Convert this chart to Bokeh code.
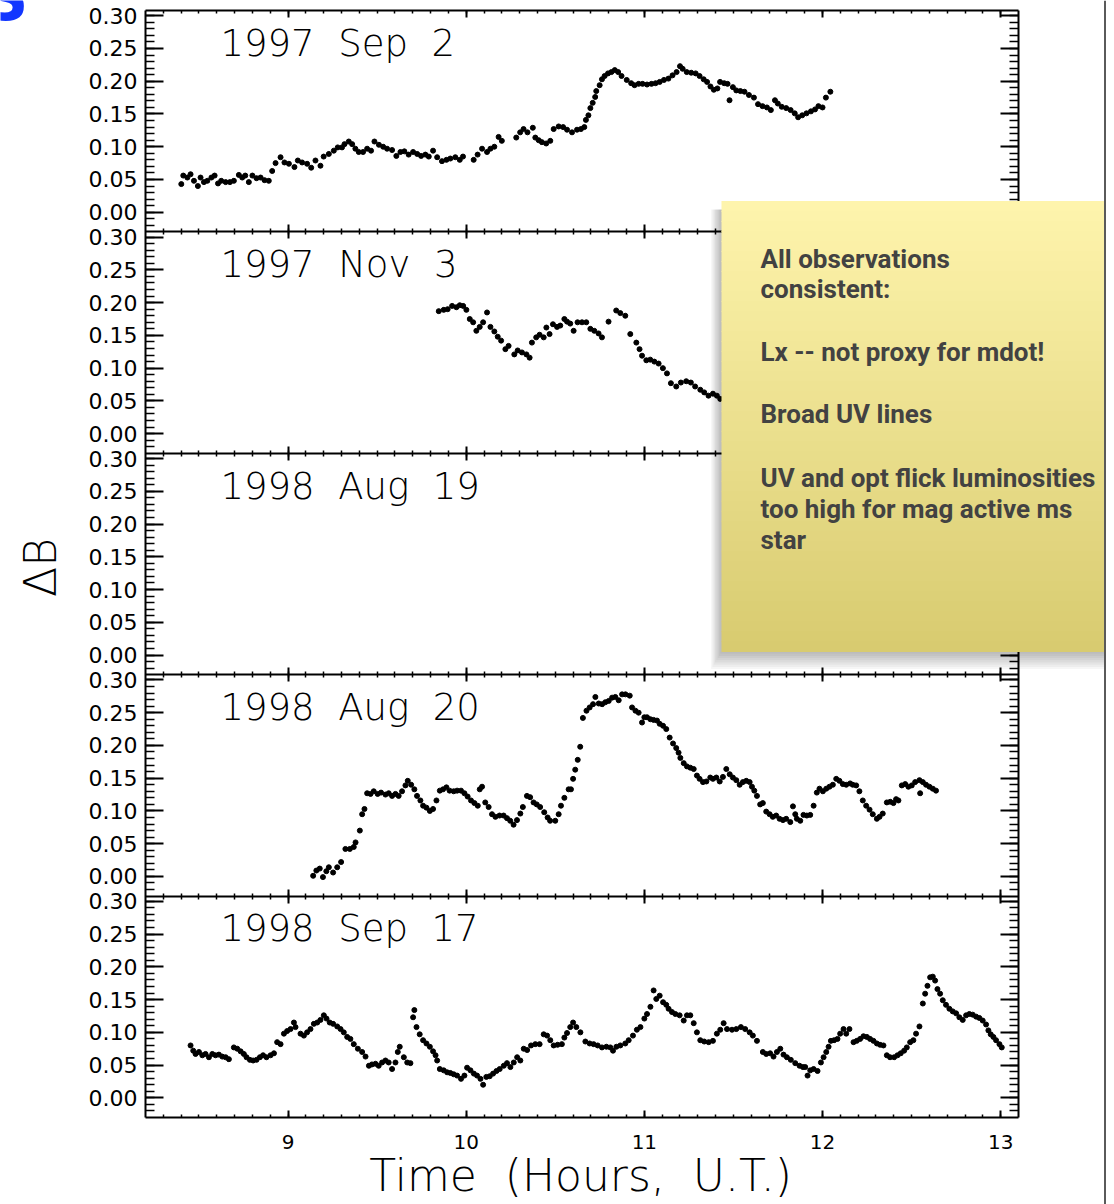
import math
from bokeh.plotting import figure
from bokeh.models import (Range1d, LinearAxis, FixedTicker, CustomJSTickFormatter,
                          BoxAnnotation, Label)
from bokeh.core.properties import value
from bokeh.embed import file_html
from bokeh.resources import INLINE

# ---------------- data ----------------
dates = ["1997 Sep 2", "1997 Nov 3", "1998 Aug 19", "1998 Aug 20", "1998 Sep 17"]

sep2_t = [8.401, 8.412, 8.435, 8.453, 8.472, 8.494, 8.509, 8.528, 8.547, 8.570,
          8.588, 8.607, 8.625, 8.650, 8.674, 8.696, 8.724, 8.743, 8.760, 8.780,
          8.800, 8.823, 8.846, 8.868, 8.892, 8.911, 8.930, 8.958, 8.980, 9.005,
          9.036, 9.055, 9.079, 9.107, 9.130, 9.154, 9.182, 9.200, 9.229, 9.257,
          9.279, 9.303, 9.317, 9.341, 9.360, 9.378, 9.397, 9.421, 9.444, 9.466,
          9.485, 9.510, 9.534, 9.556, 9.584, 9.608, 9.631, 9.653, 9.677, 9.702,
          9.725, 9.747, 9.771, 9.790, 9.814, 9.837, 9.864, 9.889, 9.911, 9.939,
          9.964, 9.982, 10.042, 10.064, 10.089, 10.117, 10.136, 10.158, 10.182, 10.200,
          10.281, 10.303, 10.322, 10.344, 10.374, 10.388, 10.407, 10.425, 10.449, 10.472,
          10.491, 10.519, 10.544, 10.566, 10.594, 10.622, 10.644, 10.663, 10.672, 10.686,
          10.697, 10.710, 10.724, 10.730, 10.749, 10.762, 10.777, 10.796, 10.815, 10.834,
          10.853, 10.872, 10.901, 10.926, 10.945, 10.968, 10.990, 11.015, 11.040, 11.063,
          11.086, 11.110, 11.135, 11.158, 11.181, 11.200, 11.215, 11.238, 11.263, 11.288,
          11.310, 11.333, 11.352, 11.371, 11.390, 11.410, 11.425, 11.448, 11.467, 11.478,
          11.497, 11.516, 11.539, 11.562, 11.587, 11.615, 11.638, 11.663, 11.688, 11.710,
          11.733, 11.749, 11.771, 11.796, 11.821, 11.844, 11.863, 11.886, 11.910, 11.935,
          11.958, 11.977, 12.000, 12.019, 12.044]
sep2_db = [0.043, 0.056, 0.053, 0.058, 0.048, 0.040, 0.053, 0.046, 0.048, 0.053,
           0.056, 0.044, 0.048, 0.046, 0.046, 0.048, 0.057, 0.053, 0.056, 0.046,
           0.056, 0.052, 0.053, 0.049, 0.048, 0.063, 0.075, 0.084, 0.076, 0.074,
           0.069, 0.079, 0.076, 0.074, 0.068, 0.079, 0.071, 0.085, 0.089, 0.094,
           0.099, 0.099, 0.104, 0.108, 0.104, 0.097, 0.092, 0.092, 0.097, 0.094,
           0.108, 0.103, 0.100, 0.097, 0.095, 0.086, 0.092, 0.093, 0.088, 0.092,
           0.089, 0.086, 0.088, 0.085, 0.094, 0.084, 0.078, 0.080, 0.082, 0.084,
           0.080, 0.085, 0.080, 0.088, 0.097, 0.092, 0.097, 0.100, 0.115, 0.109,
           0.114, 0.122, 0.127, 0.122, 0.129, 0.114, 0.110, 0.107, 0.105, 0.109,
           0.127, 0.131, 0.130, 0.126, 0.122, 0.126, 0.127, 0.130, 0.141, 0.148,
           0.159, 0.167, 0.176, 0.185, 0.194, 0.203, 0.208, 0.212, 0.214, 0.217,
           0.214, 0.208, 0.202, 0.197, 0.194, 0.196, 0.196, 0.195, 0.196, 0.197,
           0.199, 0.202, 0.204, 0.209, 0.214, 0.223, 0.219, 0.214, 0.213, 0.212,
           0.208, 0.203, 0.199, 0.192, 0.187, 0.189, 0.199, 0.197, 0.196, 0.171,
           0.191, 0.186, 0.185, 0.184, 0.179, 0.175, 0.165, 0.162, 0.160, 0.156,
           0.171, 0.166, 0.161, 0.159, 0.156, 0.151, 0.145, 0.148, 0.151, 0.154,
           0.157, 0.162, 0.160, 0.175, 0.184]

nov3_t = [9.846, 9.874, 9.896, 9.921, 9.945, 9.964, 9.983, 10.001, 10.020, 10.039,
          10.057, 10.076, 10.095, 10.117, 10.136, 10.158, 10.177, 10.196, 10.220, 10.238,
          10.270, 10.289, 10.313, 10.338, 10.356, 10.369, 10.393, 10.412, 10.435, 10.450,
          10.468, 10.487, 10.510, 10.528, 10.551, 10.566, 10.584, 10.603, 10.625, 10.650,
          10.674, 10.697, 10.719, 10.743, 10.762, 10.799, 10.842, 10.865, 10.893, 10.921,
          10.955, 10.973, 10.987, 11.011, 11.033, 11.056, 11.080, 11.104, 11.127, 11.149,
          11.179, 11.205, 11.235, 11.261, 11.285, 11.314, 11.336, 11.360, 11.385, 11.407,
          11.426]
nov3_db = [0.187, 0.189, 0.190, 0.195, 0.193, 0.196, 0.195, 0.189, 0.175, 0.170,
           0.157, 0.163, 0.170, 0.185, 0.163, 0.156, 0.148, 0.142, 0.129, 0.134,
           0.121, 0.127, 0.124, 0.121, 0.116, 0.139, 0.147, 0.151, 0.147, 0.162,
           0.152, 0.167, 0.163, 0.165, 0.175, 0.171, 0.168, 0.157, 0.170, 0.170,
           0.170, 0.160, 0.157, 0.153, 0.147, 0.171, 0.188, 0.184, 0.180, 0.152,
           0.139, 0.129, 0.119, 0.112, 0.113, 0.110, 0.107, 0.100, 0.092, 0.077,
           0.072, 0.078, 0.080, 0.078, 0.072, 0.067, 0.063, 0.058, 0.061, 0.058,
           0.053]

aug19_t = []
aug19_db = []

aug20_t = [9.141, 9.159, 9.178, 9.196, 9.215, 9.229, 9.253, 9.276, 9.298, 9.322,
           9.347, 9.369, 9.379, 9.403, 9.416, 9.429, 9.444, 9.463, 9.481, 9.503,
           9.522, 9.547, 9.565, 9.584, 9.603, 9.621, 9.640, 9.659, 9.672, 9.691,
           9.709, 9.724, 9.743, 9.758, 9.777, 9.796, 9.814, 9.833, 9.852, 9.870,
           9.889, 9.907, 9.930, 9.949, 9.971, 9.990, 10.008, 10.027, 10.046, 10.065,
           10.076, 10.089, 10.107, 10.126, 10.145, 10.164, 10.187, 10.210, 10.229, 10.247,
           10.266, 10.285, 10.304, 10.318, 10.341, 10.359, 10.378, 10.396, 10.415, 10.438,
           10.457, 10.471, 10.500, 10.519, 10.532, 10.551, 10.575, 10.588, 10.600, 10.612,
           10.626, 10.640, 10.655, 10.675, 10.693, 10.712, 10.725, 10.744, 10.763, 10.781,
           10.800, 10.819, 10.837, 10.856, 10.875, 10.894, 10.918, 10.931, 10.950, 10.968,
           10.987, 11.000, 11.015, 11.034, 11.052, 11.071, 11.086, 11.105, 11.123, 11.142,
           11.161, 11.179, 11.192, 11.202, 11.221, 11.239, 11.258, 11.277, 11.295, 11.310,
           11.329, 11.348, 11.370, 11.385, 11.404, 11.423, 11.441, 11.460, 11.479, 11.497,
           11.516, 11.535, 11.553, 11.572, 11.591, 11.604, 11.617, 11.632, 11.650, 11.665,
           11.684, 11.703, 11.721, 11.740, 11.759, 11.778, 11.796, 11.819, 11.834, 11.847,
           11.856, 11.875, 11.893, 11.912, 11.931, 11.950, 11.968, 11.983, 12.002, 12.021,
           12.039, 12.058, 12.077, 12.095, 12.114, 12.133, 12.155, 12.170, 12.189, 12.207,
           12.226, 12.245, 12.264, 12.282, 12.305, 12.320, 12.338, 12.361, 12.380, 12.398,
           12.413, 12.426, 12.445, 12.464, 12.482, 12.501, 12.520, 12.544, 12.548, 12.563,
           12.581, 12.600, 12.619, 12.637]
aug20_db = [0.001, 0.009, 0.012, -0.001, 0.008, 0.014, 0.006, 0.014, 0.022, 0.042,
            0.042, 0.045, 0.052, 0.070, 0.095, 0.103, 0.127, 0.126, 0.130, 0.126,
            0.128, 0.125, 0.127, 0.123, 0.126, 0.123, 0.130, 0.139, 0.146, 0.140,
            0.133, 0.123, 0.116, 0.108, 0.105, 0.100, 0.103, 0.116, 0.131, 0.133,
            0.136, 0.131, 0.130, 0.131, 0.131, 0.127, 0.122, 0.116, 0.112, 0.108,
            0.133, 0.137, 0.113, 0.106, 0.095, 0.091, 0.093, 0.093, 0.089, 0.085,
            0.079, 0.086, 0.096, 0.106, 0.123, 0.121, 0.113, 0.110, 0.106, 0.098,
            0.090, 0.085, 0.085, 0.095, 0.108, 0.120, 0.133, 0.133, 0.149, 0.163,
            0.178, 0.198, 0.242, 0.253, 0.258, 0.263, 0.274, 0.264, 0.263, 0.266,
            0.268, 0.273, 0.274, 0.269, 0.278, 0.278, 0.276, 0.258, 0.253, 0.250,
            0.235, 0.243, 0.243, 0.240, 0.239, 0.238, 0.233, 0.230, 0.225, 0.212,
            0.203, 0.196, 0.189, 0.181, 0.173, 0.168, 0.166, 0.164, 0.154, 0.149,
            0.144, 0.145, 0.151, 0.149, 0.151, 0.145, 0.152, 0.164, 0.156, 0.151,
            0.147, 0.140, 0.144, 0.146, 0.144, 0.137, 0.131, 0.123, 0.110, 0.112,
            0.099, 0.095, 0.091, 0.093, 0.088, 0.086, 0.088, 0.083, 0.107, 0.095,
            0.088, 0.085, 0.094, 0.093, 0.094, 0.108, 0.128, 0.134, 0.130, 0.134,
            0.137, 0.140, 0.149, 0.146, 0.141, 0.140, 0.142, 0.140, 0.139, 0.130,
            0.116, 0.108, 0.102, 0.095, 0.088, 0.091, 0.096, 0.113, 0.114, 0.112,
            0.118, 0.116, 0.139, 0.141, 0.137, 0.139, 0.144, 0.147, 0.127, 0.144,
            0.140, 0.137, 0.134, 0.131]

sep17_t = [8.453, 8.468, 8.481, 8.500, 8.519, 8.537, 8.556, 8.575, 8.593, 8.612,
           8.631, 8.650, 8.668, 8.696, 8.715, 8.734, 8.752, 8.767, 8.786, 8.804,
           8.823, 8.842, 8.860, 8.879, 8.902, 8.921, 8.939, 8.958, 8.977, 8.995,
           9.014, 9.033, 9.042, 9.070, 9.089, 9.107, 9.126, 9.145, 9.164, 9.182,
           9.201, 9.216, 9.234, 9.253, 9.276, 9.295, 9.313, 9.332, 9.350, 9.369,
           9.392, 9.416, 9.435, 9.454, 9.471, 9.491, 9.509, 9.528, 9.547, 9.565,
           9.584, 9.603, 9.616, 9.627, 9.650, 9.669, 9.687, 9.702, 9.709, 9.721,
           9.739, 9.758, 9.777, 9.796, 9.814, 9.828, 9.837, 9.852, 9.874, 9.893,
           9.911, 9.930, 9.949, 9.971, 9.990, 10.005, 10.024, 10.043, 10.061, 10.080,
           10.095, 10.113, 10.132, 10.151, 10.170, 10.188, 10.211, 10.229, 10.248, 10.267,
           10.286, 10.304, 10.323, 10.342, 10.364, 10.388, 10.412, 10.435, 10.454, 10.472,
           10.491, 10.513, 10.537, 10.551, 10.566, 10.584, 10.600, 10.618, 10.641, 10.669,
           10.693, 10.715, 10.738, 10.762, 10.787, 10.809, 10.824, 10.843, 10.865, 10.893,
           10.912, 10.936, 10.958, 10.978, 11.000, 11.015, 11.034, 11.052, 11.067, 11.086,
           11.105, 11.123, 11.136, 11.155, 11.174, 11.198, 11.221, 11.239, 11.258, 11.277,
           11.295, 11.314, 11.336, 11.361, 11.385, 11.407, 11.426, 11.445, 11.464, 11.492,
           11.516, 11.542, 11.566, 11.591, 11.609, 11.632, 11.665, 11.684, 11.706, 11.725,
           11.744, 11.763, 11.781, 11.800, 11.822, 11.847, 11.871, 11.890, 11.903, 11.916,
           11.931, 11.950, 11.972, 11.991, 12.006, 12.021, 12.034, 12.047, 12.065, 12.084,
           12.099, 12.118, 12.133, 12.151, 12.174, 12.192, 12.211, 12.230, 12.249, 12.267,
           12.286, 12.305, 12.323, 12.342, 12.361, 12.379, 12.402, 12.421, 12.439, 12.458,
           12.473, 12.492, 12.510, 12.525, 12.544, 12.563, 12.576, 12.589, 12.604, 12.619,
           12.632, 12.645, 12.660, 12.675, 12.693, 12.712, 12.731, 12.750, 12.768, 12.787,
           12.806, 12.824, 12.843, 12.862, 12.880, 12.899, 12.918, 12.931, 12.944, 12.959,
           12.974, 12.993, 13.006]
sep17_db = [0.080, 0.072, 0.067, 0.070, 0.065, 0.067, 0.062, 0.067, 0.065, 0.066,
            0.063, 0.062, 0.059, 0.077, 0.075, 0.071, 0.067, 0.062, 0.058, 0.057,
            0.058, 0.062, 0.065, 0.062, 0.065, 0.068, 0.085, 0.082, 0.098, 0.102,
            0.105, 0.115, 0.108, 0.098, 0.095, 0.100, 0.105, 0.113, 0.115, 0.119,
            0.126, 0.121, 0.115, 0.113, 0.109, 0.105, 0.100, 0.093, 0.090, 0.082,
            0.075, 0.070, 0.063, 0.049, 0.051, 0.052, 0.049, 0.054, 0.057, 0.054,
            0.044, 0.054, 0.070, 0.078, 0.062, 0.054, 0.053, 0.123, 0.134, 0.108,
            0.097, 0.088, 0.083, 0.078, 0.071, 0.065, 0.057, 0.044, 0.042, 0.039,
            0.038, 0.036, 0.034, 0.029, 0.034, 0.046, 0.042, 0.037, 0.034, 0.029,
            0.020, 0.032, 0.033, 0.037, 0.041, 0.044, 0.049, 0.053, 0.047, 0.054,
            0.062, 0.057, 0.075, 0.073, 0.080, 0.082, 0.082, 0.097, 0.095, 0.088,
            0.080, 0.081, 0.082, 0.092, 0.099, 0.108, 0.115, 0.108, 0.100, 0.086,
            0.083, 0.082, 0.080, 0.077, 0.078, 0.077, 0.072, 0.078, 0.080, 0.083,
            0.088, 0.095, 0.104, 0.108, 0.121, 0.128, 0.139, 0.164, 0.151, 0.156,
            0.146, 0.142, 0.136, 0.131, 0.128, 0.126, 0.118, 0.126, 0.126, 0.114,
            0.100, 0.088, 0.086, 0.085, 0.087, 0.098, 0.104, 0.114, 0.105, 0.104,
            0.105, 0.108, 0.105, 0.100, 0.095, 0.087, 0.070, 0.067, 0.068, 0.063,
            0.070, 0.075, 0.066, 0.062, 0.058, 0.053, 0.049, 0.047, 0.047, 0.034,
            0.042, 0.044, 0.041, 0.054, 0.062, 0.070, 0.078, 0.087, 0.088, 0.090,
            0.098, 0.105, 0.098, 0.105, 0.085, 0.087, 0.090, 0.094, 0.093, 0.090,
            0.087, 0.083, 0.081, 0.080, 0.065, 0.062, 0.062, 0.065, 0.068, 0.072,
            0.077, 0.085, 0.088, 0.098, 0.109, 0.144, 0.159, 0.171, 0.184, 0.185,
            0.179, 0.166, 0.159, 0.149, 0.142, 0.136, 0.132, 0.129, 0.123, 0.119,
            0.126, 0.128, 0.127, 0.124, 0.122, 0.118, 0.112, 0.103, 0.097, 0.093,
            0.088, 0.082, 0.077]

ytick_values = [0.00, 0.05, 0.10, 0.15, 0.20, 0.25, 0.30]
ytick_labels = ["0.00", "0.05", "0.10", "0.15", "0.20", "0.25", "0.30"]
xtick_values = [9, 10, 11, 12, 13]

note_lines = ["All observations", "consistent:", "Lx -- not proxy for mdot!",
              "Broad UV lines", "UV and opt flick luminosities",
              "too high for mag active ms", "star"]

series_t = [sep2_t, nov3_t, aug19_t, aug20_t, sep17_t]
series_db = [sep2_db, nov3_db, aug19_db, aug20_db, sep17_db]

# ---------------- geometry (page pixels) ----------------
Y_LO, Y_HI = -0.03, 0.308
SPAN = Y_HI - Y_LO
NP = 5
X_LO, X_HI = 8.2, 13.1
W, H = 1114, 1204
PL, PT, PR, PB = 145, 10, 1018, 1117   # plot-box edges on the page
PXH = (PR - PL) / (X_HI - X_LO)
PXU = (PB - PT) / (NP * SPAN)
XS, XE = X_LO - PL / PXH, X_LO + (W - PL) / PXH
YS, YE = -(H - PB) / PXU, NP * SPAN + PT / PXU


def dx(px):
    return XS + px / PXH


def dy(py):
    return YE - py / PXU


def stack(k, v):
    return (NP - 1 - k) * SPAN + (v - Y_LO)


p = figure(width=W, height=H, x_range=Range1d(XS, XE), y_range=Range1d(YS, YE),
           output_backend="svg", toolbar_location=None,
           x_axis_location=None, y_axis_location=None,
           min_border=0, min_border_left=0, min_border_right=0,
           min_border_top=0, min_border_bottom=0)
p.outline_line_color = None
p.background_fill_color = "white"
p.border_fill_color = "white"
p.grid.visible = False

p.extra_y_ranges = {f"p{k}": Range1d(YS - (NP - 1 - k) * SPAN + Y_LO, YE - (NP - 1 - k) * SPAN + Y_LO)
                    for k in range(NP)}

y_major = [stack(k, v) for k in range(NP) for v in ytick_values]
y_labs = [lab for k in range(NP) for lab in ytick_labels]
y_minor = [stack(k, i / 100.0) for k in range(NP) for i in range(-2, 31)]
y_ticker = FixedTicker(ticks=y_major, minor_ticks=y_minor)
x_ticker = FixedTicker(ticks=xtick_values, minor_ticks=[round(8.3 + 0.1 * i, 2) for i in range(48)])
y_bounds = (0, NP * SPAN)
x_bounds = (X_LO, X_HI)


def style(ax, mi, mo, ni, no):
    ax.axis_line_width = 2
    ax.axis_line_color = "black"
    ax.major_tick_line_width = 2
    ax.minor_tick_line_width = 1.5
    ax.major_tick_line_color = "black"
    ax.minor_tick_line_color = "black"
    ax.major_tick_in = mi
    ax.major_tick_out = mo
    ax.minor_tick_in = ni
    ax.minor_tick_out = no


# left axis
ya = LinearAxis(fixed_location=X_LO, bounds=y_bounds, ticker=y_ticker)
ya.formatter = CustomJSTickFormatter(args=dict(pos=y_major, lab=y_labs), code="""
let b = 0;
for (let i = 0; i < pos.length; i++) { if (Math.abs(pos[i] - tick) < Math.abs(pos[b] - tick)) b = i; }
return lab[b];""")
style(ya, 18, 0, 9, 0)
ya.major_label_text_font = "DejaVu Sans"
ya.major_label_text_font_size = "22px"
ya.major_label_text_color = "black"
ya.major_label_standoff = 8
p.add_layout(ya, "left")

# bottom axis
xa = LinearAxis(fixed_location=0, bounds=x_bounds, ticker=x_ticker)
style(xa, 7, 0, 3, 0)
xa.major_label_text_font = "DejaVu Sans"
xa.major_label_text_font_size = "20px"
xa.major_label_text_color = "black"
xa.major_label_standoff = 17
p.add_layout(xa, "below")

# right edge
ra = LinearAxis(fixed_location=X_HI, bounds=y_bounds, ticker=y_ticker, major_label_text_color=None)
style(ra, 18, 0, 9, 0)
p.add_layout(ra, "right")

# top edge
ta = LinearAxis(fixed_location=NP * SPAN, bounds=x_bounds, ticker=x_ticker, major_label_text_color=None)
style(ta, 7, 0, 3, 0)
p.add_layout(ta, "above")

# internal panel boundaries
for j in range(1, NP):
    ia = LinearAxis(fixed_location=j * SPAN, bounds=x_bounds, ticker=x_ticker,
                    major_label_text_color=None)
    style(ia, 7, 7, 3, 3)
    p.add_layout(ia, "below")

BIG_FONT = "DejaVu Sans Light"
NB2 = "\u00a0\u00a0"

# data
for k in range(NP):
    if series_t[k]:
        p.scatter(series_t[k], series_db[k], size=5, color="black", y_range_name=f"p{k}")
    p.text(x=[dx(220)], y=[0.258], text=[dates[k].replace(" ", NB2)], y_range_name=f"p{k}",
           text_font=value(BIG_FONT), text_font_size="37px", text_color="black",
           text_baseline="middle", text_align="left")

# axis titles
p.add_layout(Label(x=dx(580), y=dy(1175), text="Time (Hours, U.T.)".replace(" ", NB2),
                   text_font=BIG_FONT, text_font_size="44px", text_color="black",
                   text_align="center", text_baseline="middle"))
p.add_layout(Label(x=dx(40), y=dy(567), text="ΔB", angle=math.pi / 2,
                   text_font=BIG_FONT, text_font_size="44px", text_color="black",
                   text_align="center", text_baseline="middle"))

# corner of a slide letter
p.add_layout(Label(x=dx(28), y=dy(-2), text="S", text_font="DejaVu Sans",
                   text_font_size="62px", text_font_style="bold", text_color="#1236ff",
                   text_align="right", text_baseline="middle"))

# sticky note: shadow, body (gradient strips), text
NL, NR, NT, NBOT = 721, 1104, 201, 651
for i in range(1, 9):
    p.add_layout(BoxAnnotation(left=dx(NL - i * 1.3), right=dx(NR), top=dy(NT + 8),
                               bottom=dy(NBOT + i * 2.2), fill_color="black",
                               fill_alpha=0.035, line_color=None))
c0 = (254, 244, 172)
c1 = (216, 203, 112)
NS = 45
for i in range(NS):
    f = i / (NS - 1)
    col = "#%02x%02x%02x" % tuple(int(round(c0[j] + (c1[j] - c0[j]) * f)) for j in range(3))
    top = NT + (NBOT - NT) * i / NS
    bot = NT + (NBOT - NT) * (i + 1) / NS
    p.add_layout(BoxAnnotation(left=dx(NL), right=dx(NR), top=dy(top - 0.5), bottom=dy(bot + 0.5),
                               fill_color=col, fill_alpha=1.0, line_color=None))

NOTE_FS = 26
baselines = [268, 298, 361, 423, 487, 518, 549]
for txt, by in zip(note_lines, baselines):
    p.add_layout(Label(x=dx(760), y=dy(by - 0.35 * NOTE_FS), text=txt, text_font="Roboto",
                       text_font_size=f"{NOTE_FS}px", text_font_style="bold", text_color="#424242",
                       text_align="left", text_baseline="middle"))

# slide edge line
p.add_layout(BoxAnnotation(left=dx(1103.5), right=dx(1105.5), top=dy(0), bottom=dy(1204),
                           fill_color="#5a5a5a", fill_alpha=1.0, line_color=None))

open("out.html", "w").write(file_html(p, INLINE))
